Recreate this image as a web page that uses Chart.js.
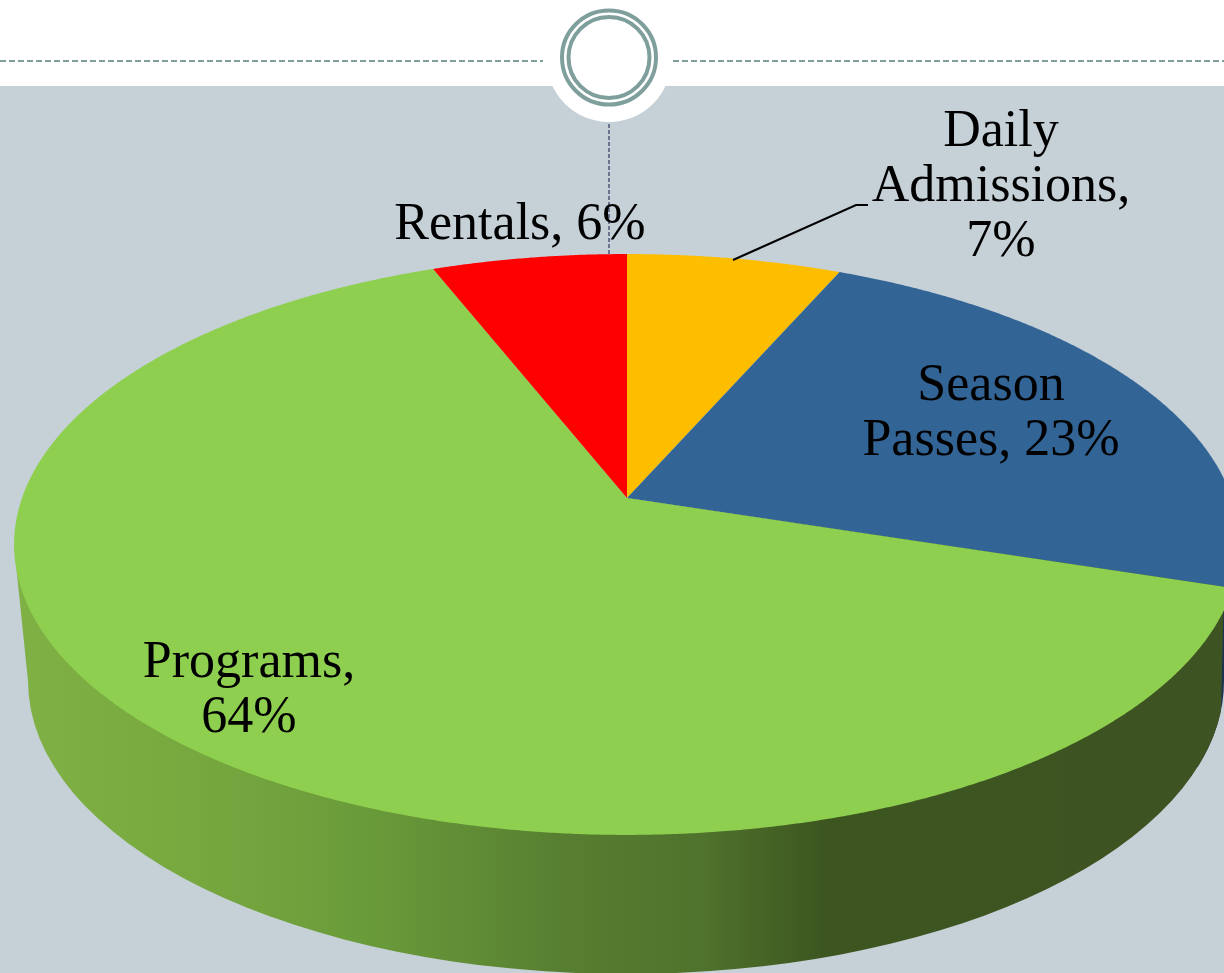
<!DOCTYPE html>
<html>
<head>
<meta charset="utf-8">
<title>Revenue pie</title>
<script src="https://cdn.jsdelivr.net/npm/chart.js@4/dist/chart.umd.min.js"></script>
<style>
  html, body { margin: 0; padding: 0; background: #fff; overflow: hidden; }
  canvas { display: block; }
</style>
</head>
<body>
<canvas id="myChart" width="1224" height="973"></canvas>
<script>
// values, labels show them rounded
const categories = ['Daily Admissions', 'Season Passes', 'Programs', 'Rentals'];
const shares = [6.6, 23.3, 64.1, 6];
const sliceColors = ['#FDBE00', '#326496', '#8FCF50', '#FF0000'];

// where each label sits: centre x, first baseline, wrap width
const labelSpots = [
  { x: 1001, y: 146, wrap: 270 },
  { x: 991, y: 400, wrap: 270 },
  { x: 249, y: 677, wrap: 240 },
  { x: 520, y: 239, wrap: 320 }
];

// perspective of the tilted top face
const apexX = 627, apexY = 498, radX = 605, radY = 283, tilt = 0.16;

function project(angle) {
  const u = Math.cos(angle), v = Math.sin(angle);
  const w = 1 - tilt * v;
  return [apexX + radX * u / w, apexY + radY * v / w];
}

function wrapText(ctx, text, width) {
  const lines = [];
  let line = '';
  text.split(' ').forEach(word => {
    const next = line ? line + ' ' + word : word;
    if (line && ctx.measureText(next).width > width) {
      lines.push(line);
      line = word;
    } else {
      line = next;
    }
  });
  lines.push(line);
  return lines;
}

const slidePlugin = {
  id: 'slide',
  beforeDraw(chart) {
    const ctx = chart.ctx;
    ctx.save();
    ctx.fillStyle = '#fff';
    ctx.fillRect(0, 0, 1224, 973);
    ctx.fillStyle = '#C5D0D7';
    ctx.fillRect(0, 86, 1224, 887);

    // white notch under the ring
    ctx.fillStyle = '#fff';
    ctx.beginPath();
    ctx.arc(609, 59.6, 62.4, 0, Math.PI * 2);
    ctx.fill();

    // dashed header rule
    ctx.strokeStyle = '#7F9F9C';
    ctx.lineWidth = 2;
    ctx.setLineDash([6, 3]);
    ctx.beginPath();
    ctx.moveTo(0, 61); ctx.lineTo(543, 61);
    ctx.moveTo(673, 61); ctx.lineTo(1224, 61);
    ctx.stroke();

    // ring
    ctx.setLineDash([]);
    ctx.lineWidth = 4;
    ctx.beginPath(); ctx.arc(609, 57.5, 47, 0, Math.PI * 2); ctx.stroke();
    ctx.beginPath(); ctx.arc(609, 57.5, 40.5, 0, Math.PI * 2); ctx.stroke();

    // dashed drop line
    ctx.strokeStyle = '#6B7391';
    ctx.lineWidth = 2;
    ctx.setLineDash([4, 2]);
    ctx.beginPath();
    ctx.moveTo(609, 124); ctx.lineTo(609, 256);
    ctx.stroke();
    ctx.restore();
  },
  beforeDatasetsDraw(chart) {
    const ctx = chart.ctx;
    const arcs = chart.getDatasetMeta(0).data;
    ctx.save();

    // side wall of the season passes slice, only a sliver shows
    ctx.fillStyle = '#1E3350';
    ctx.beginPath();
    ctx.moveTo(1240, 545);
    ctx.lineTo(1224, 681);
    ctx.ellipse(626, 681, 598, 293, 0, 0, 0.3);
    ctx.lineTo(1200, 600);
    ctx.closePath();
    ctx.fill();

    // side wall of the programs slice
    const wall = ctx.createLinearGradient(14, 0, 1224, 0);
    wall.addColorStop(0, '#7FB145');
    wall.addColorStop(0.15, '#77A83F');
    wall.addColorStop(0.3, '#699A3A');
    wall.addColorStop(0.45, '#587F31');
    wall.addColorStop(0.57, '#4F722C');
    wall.addColorStop(0.67, '#3D5620');
    wall.addColorStop(1, '#3D5322');
    ctx.fillStyle = wall;
    ctx.beginPath();
    ctx.moveTo(14, 545);
    ctx.lineTo(28, 681);
    ctx.ellipse(626, 681, 598, 293, 0, Math.PI, 0.1, true);
    ctx.lineTo(1224, 586);
    ctx.lineTo(627, 498);
    ctx.closePath();
    ctx.fill();

    // top face, angles come from the chart's own arc elements
    arcs.forEach((arc, i) => {
      const p = arc.getProps(['startAngle', 'endAngle'], true);
      const steps = Math.ceil((p.endAngle - p.startAngle) / 0.005);
      ctx.beginPath();
      ctx.moveTo(apexX, apexY);
      for (let s = 0; s <= steps; s++) {
        const pt = project(p.startAngle + (p.endAngle - p.startAngle) * s / steps);
        ctx.lineTo(pt[0], pt[1]);
      }
      ctx.closePath();
      ctx.fillStyle = sliceColors[i];
      ctx.fill();
    });
    ctx.restore();
    return false;
  },
  afterDraw(chart) {
    const ctx = chart.ctx;
    ctx.save();

    // leader line for daily admissions
    ctx.strokeStyle = '#000';
    ctx.lineWidth = 2;
    ctx.beginPath();
    ctx.moveTo(733, 260);
    ctx.lineTo(856, 205);
    ctx.lineTo(868, 205);
    ctx.stroke();

    ctx.fillStyle = '#000';
    ctx.font = '52px "Liberation Serif"';
    ctx.textAlign = 'center';
    ctx.textBaseline = 'alphabetic';
    categories.forEach((name, i) => {
      const spot = labelSpots[i];
      const text = name + ', ' + Math.round(shares[i]) + '%';
      wrapText(ctx, text, spot.wrap).forEach((line, n) => {
        ctx.fillText(line, spot.x, spot.y + n * 55);
      });
    });
    ctx.restore();
  }
};

const config = {
  type: 'pie',
  data: {
    labels: categories,
    datasets: [{ data: shares, backgroundColor: sliceColors, borderWidth: 0 }]
  },
  options: {
    responsive: false,
    animation: false,
    rotation: 0,
    events: [],
    plugins: {
      legend: { display: false },
      tooltip: { enabled: false }
    }
  },
  plugins: [slidePlugin]
};

const myChart = new Chart(document.getElementById('myChart').getContext('2d'), config);
</script>
</body>
</html>
